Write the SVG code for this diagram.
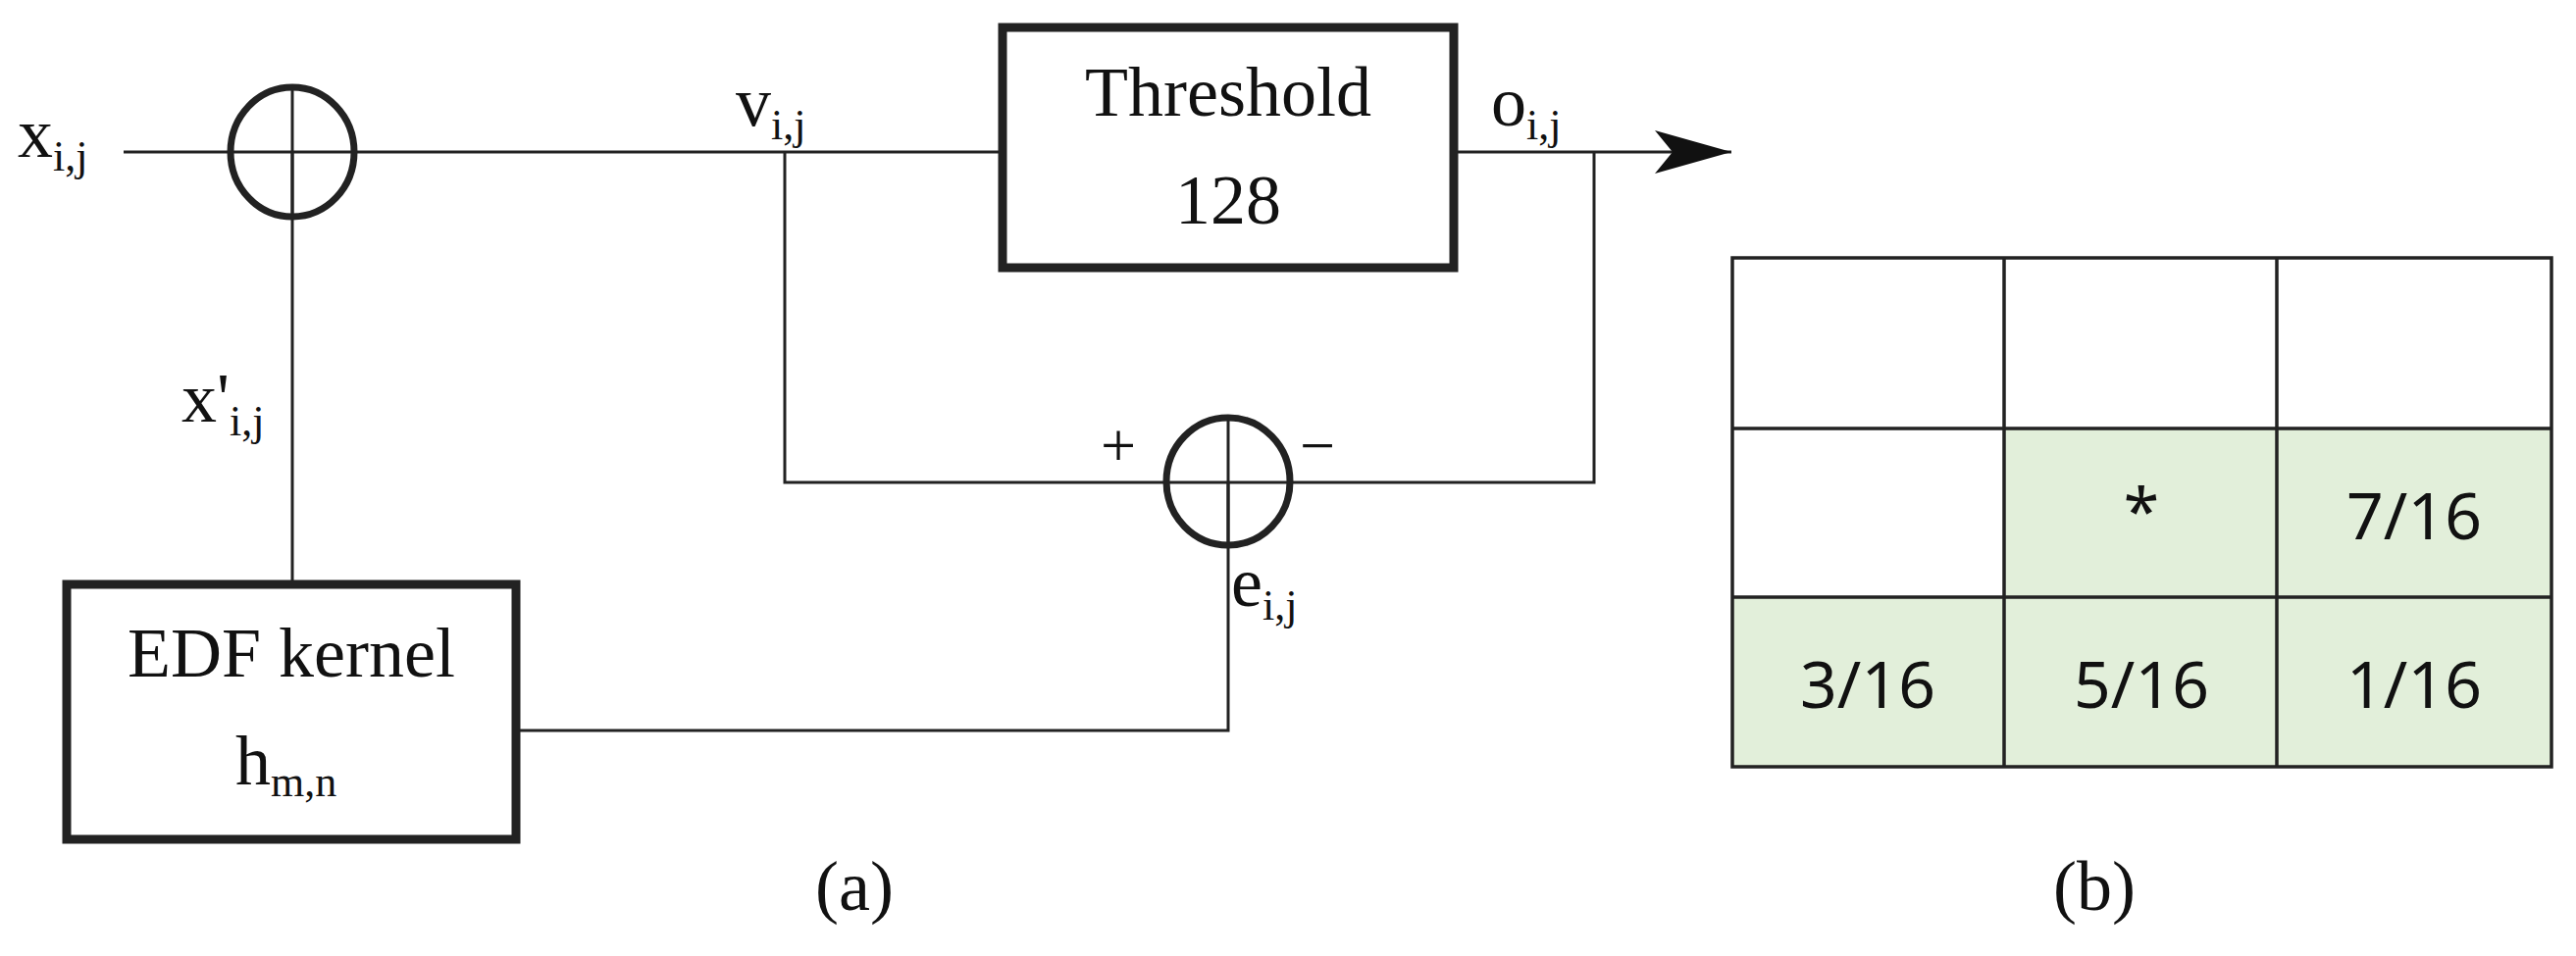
<svg xmlns="http://www.w3.org/2000/svg" width="2626" height="975" viewBox="0 0 2626 975">
<style>
.s{font-family:"Liberation Serif",serif;fill:#111}
.t{font-family:"Noto Sans","Open Sans",sans-serif;fill:#111;font-size:66px;text-anchor:middle}
.w{fill:none;stroke:#222;stroke-width:3}
.box{fill:#fff;stroke:#222;stroke-width:9}
.sum{fill:none;stroke:#222;stroke-width:7}
.c{stroke:#222;stroke-width:3.5}
</style>
<defs><marker id="ah" markerWidth="80" markerHeight="50" refX="78" refY="22" orient="auto" markerUnits="userSpaceOnUse"><path d="M0,0 L78,22 L0,44 L18,22 Z" fill="#111"/></marker></defs>
<rect width="2626" height="975" fill="#fff"/>
<g id="connectors">
<path class="w" d="M126,155 H1020"/>
<path class="w" d="M1484,155 H1765" marker-end="url(#ah)"/>
<path class="w" d="M800,155 V492 H1625 V155"/>
<path class="w" d="M298,155 V593"/>
<path class="w" d="M1252,491 V745 H529"/>
</g>
<g id="sum1"><ellipse class="sum" cx="298" cy="155" rx="63" ry="66"/><path class="w" d="M298,89 V221"/></g>
<g id="sum2"><ellipse class="sum" cx="1252" cy="491" rx="63" ry="65"/><path class="w" d="M1252,426 V556"/></g>
<g id="threshold"><rect class="box" x="1022" y="28" width="460" height="245"/>
<text class="s" x="1252" y="118" font-size="72" text-anchor="middle">Threshold</text>
<text class="s" x="1252" y="228" font-size="72" text-anchor="middle">128</text></g>
<g id="edf"><rect class="box" x="68" y="596" width="458" height="260"/>
<text class="s" x="297" y="690" font-size="72" text-anchor="middle">EDF kernel</text>
<text class="s" x="240" y="800" font-size="72">h<tspan font-size="44" dy="12">m,n</tspan></text></g>
<g id="labels">
<text class="s" x="18" y="160" font-size="72">x<tspan font-size="44" dy="14">i,j</tspan></text>
<text class="s" x="185" y="430" font-size="72">x'<tspan font-size="44" dy="14">i,j</tspan></text>
<text class="s" x="750" y="128" font-size="72">v<tspan font-size="44" dy="14">i,j</tspan></text>
<text class="s" x="1520" y="128" font-size="72">o<tspan font-size="44" dy="14">i,j</tspan></text>
<text class="s" x="1122" y="476" font-size="64">+</text>
<text class="s" x="1325" y="476" font-size="64">−</text>
<text class="s" x="1255" y="618" font-size="72">e<tspan font-size="44" dy="14">i,j</tspan></text>
<text class="s" x="871" y="928" font-size="72" text-anchor="middle">(a)</text>
<text class="s" x="2135" y="928" font-size="72" text-anchor="middle">(b)</text>
</g>
<g id="table">
<rect x="2043" y="437" width="558" height="172" fill="#e2efda"/>
<rect x="1766" y="609" width="835" height="173" fill="#e2efda"/>
<path class="c" fill="none" d="M1766,263 H2601 V782 H1766 Z M2043,263 V782 M2321,263 V782 M1766,437 H2601 M1766,609 H2601"/>
<text class="t" x="2183" y="545">*</text>
<text class="t" x="2461" y="550">7/16</text>
<text class="t" x="1904" y="722">3/16</text>
<text class="t" x="2183" y="722">5/16</text>
<text class="t" x="2461" y="722">1/16</text>
</g>
</svg>
